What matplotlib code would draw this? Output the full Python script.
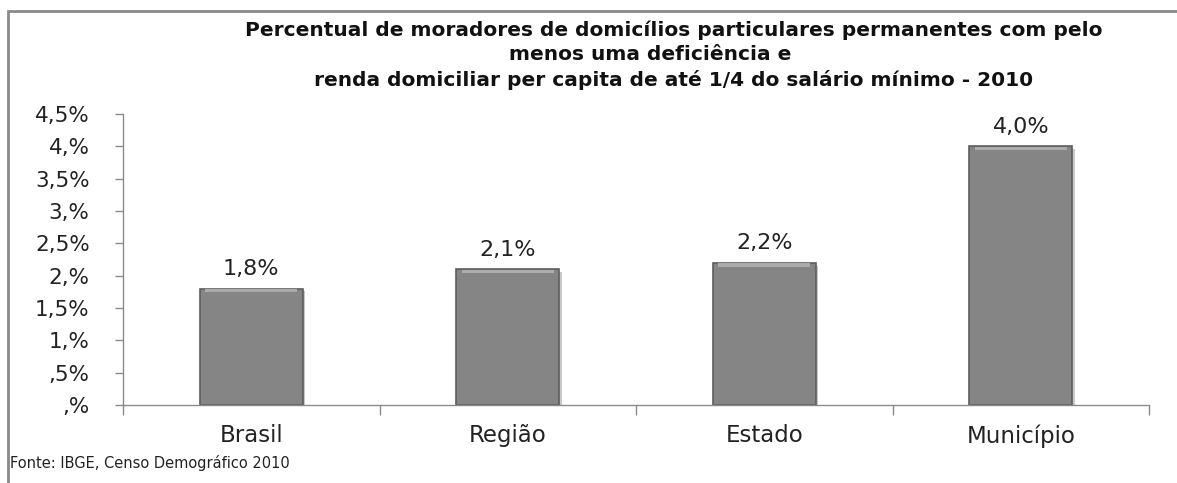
import matplotlib.pyplot as plt
from matplotlib.patches import Rectangle
import matplotlib.patheffects as pe
import numpy as np

plt.rcParams['font.family'] = ['DejaVu Sans']

categories = ['Brasil', 'Região', 'Estado', 'Município']
values = [1.8, 2.1, 2.2, 4.0]
value_labels = ['1,8%', '2,1%', '2,2%', '4,0%']
y_ticks = [0, 0.5, 1, 1.5, 2, 2.5, 3, 3.5, 4, 4.5]
y_tick_labels = [',%', ',5%', '1,%', '1,5%', '2,%', '2,5%', '3,%', '3,5%', '4,%', '4,5%']

W, H = 1177, 483
fig = plt.figure(figsize=(W / 100, H / 100), dpi=100)

# outer chart border (left and top visible, rest cut off)
fig.patches.append(Rectangle((8 / W, -0.1), 1.2, 1.1 - 11 / H, transform=fig.transFigure,
                             fill=False, edgecolor='#8a8a8a', linewidth=2))

ax = fig.add_axes([123 / W, 1 - 405 / H, (1149 - 123) / W, (405 - 114) / H])

x = np.arange(len(categories))
bars = ax.bar(x, values, width=0.4, color='#858585', edgecolor='#5e5e5e', linewidth=1.2,
              path_effects=[pe.SimplePatchShadow(offset=(2, -2), alpha=0.25), pe.Normal()])
# bevel highlight along the top of each bar
ax.bar(x, [0.05] * len(values), bottom=[v - 0.06 for v in values], width=0.36,
       color='#acacac', linewidth=0)

for xi, v, lab in zip(x, values, value_labels):
    ax.text(xi, v + 0.15, lab, ha='center', va='bottom', fontsize=16, color='#222222')

ax.set_xlim(-0.5, len(categories) - 0.5)
ax.set_ylim(0, 4.5)
ax.set_yticks(y_ticks)
ax.set_yticklabels(y_tick_labels, fontsize=15.5, color='#222222')
ax.set_xticks(x)
ax.set_xticklabels(categories, fontsize=16.5, color='#222222')
ax.set_xticks(np.arange(len(categories) + 1) - 0.5, minor=True)
ax.tick_params(axis='x', which='major', length=0, pad=14)
ax.tick_params(axis='x', which='minor', length=7, color='#8a8a8a', width=1)
ax.tick_params(axis='y', length=6, color='#8a8a8a', width=1, pad=18)

for s in ['top', 'right']:
    ax.spines[s].set_visible(False)
for s in ['left', 'bottom']:
    ax.spines[s].set_color('#8a8a8a')
    ax.spines[s].set_linewidth(1)

fig.text(674 / W, 1 - 30 / H, 'Percentual de moradores de domicílios particulares permanentes com pelo',
         ha='center', va='center', fontsize=14.5, fontweight='bold', color='#111111')
fig.text(650 / W, 1 - 55 / H, 'menos uma deficiência e',
         ha='center', va='center', fontsize=14.5, fontweight='bold', color='#111111')
fig.text(674 / W, 1 - 80 / H, 'renda domiciliar per capita de até 1/4 do salário mínimo - 2010',
         ha='center', va='center', fontsize=14.5, fontweight='bold', color='#111111')
fig.text(10 / W, 1 - 463 / H, 'Fonte: IBGE, Censo Demográfico 2010',
         ha='left', va='center', fontsize=10.5, color='#222222')

fig.savefig('out.png', dpi=100)
